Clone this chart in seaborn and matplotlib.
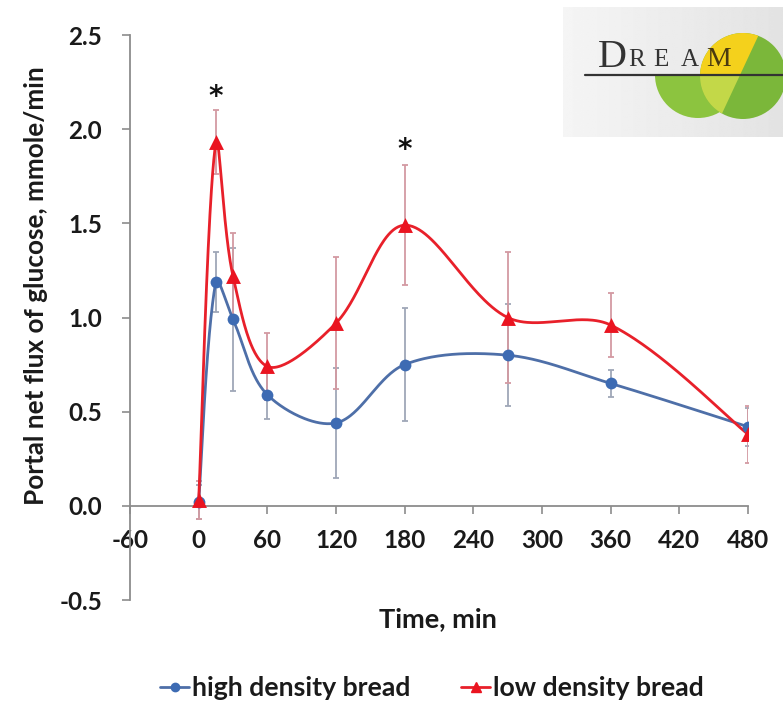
import numpy as np
import pandas as pd
import matplotlib
matplotlib.use("Agg")
import matplotlib.pyplot as plt
import seaborn as sns
from matplotlib.patches import Circle, Rectangle, Polygon
from matplotlib.lines import Line2D

# ---------------- data ----------------
time_min = [0, 15, 30, 60, 120, 180, 270, 360, 480]
high_density = [0.02, 1.19, 0.99, 0.59, 0.44, 0.75, 0.80, 0.65, 0.42]
high_err = [0.09, 0.16, 0.38, 0.13, 0.29, 0.30, 0.27, 0.07, 0.10]
low_density = [0.03, 1.93, 1.22, 0.74, 0.97, 1.49, 1.00, 0.96, 0.38]
low_err = [0.10, 0.17, 0.23, 0.18, 0.35, 0.32, 0.35, 0.17, 0.15]
star_times = [15, 180]
star_values = [2.17, 1.89]
x_ticks = [-60, 0, 60, 120, 180, 240, 300, 360, 420, 480]
y_ticks = [-0.5, 0.0, 0.5, 1.0, 1.5, 2.0, 2.5]
series_names = ["high density bread", "low density bread"]

BLUE_LINE = "#4E6FA8"
BLUE_MARK = "#3D6BB3"
BLUE_ERR = "#9FA7B8"
RED_LINE = "#E8202A"
RED_MARK = "#EA1420"
RED_ERR = "#D39AA2"

# axis geometry (used only for the smoothing of the connecting curve)
X_MIN, X_MAX, Y_MIN, Y_MAX = -60, 480, -0.5, 2.5
AX_W_PX, AX_H_PX = 618, 565


def excel_smooth(x, y, n=60):
    """Bezier 'smoothed line' through the points, tangents scaled by chord length."""
    sx = AX_W_PX / (X_MAX - X_MIN)
    sy = AX_H_PX / (Y_MAX - Y_MIN)
    P = np.column_stack([np.asarray(x, float) * sx, np.asarray(y, float) * sy])
    m = len(P)
    c_out = np.zeros_like(P)
    c_in = np.zeros_like(P)
    for i in range(m):
        if i == 0:
            c_out[i] = P[0] + (P[1] - P[0]) / 6.0
            continue
        if i == m - 1:
            c_in[i] = P[i] - (P[i] - P[i - 1]) / 6.0
            continue
        T = P[i + 1] - P[i - 1]
        d_in = np.hypot(*(P[i] - P[i - 1]))
        d_out = np.hypot(*(P[i + 1] - P[i]))
        c_out[i] = P[i] + T * d_out / (d_in + d_out) / 3.0
        c_in[i] = P[i] - T * d_in / (d_in + d_out) / 3.0
    t = np.linspace(0, 1, n)[:, None]
    segs = []
    for i in range(m - 1):
        p1, b1, b2, p2 = P[i], c_out[i], c_in[i + 1], P[i + 1]
        seg = ((1 - t) ** 3) * p1 + 3 * ((1 - t) ** 2) * t * b1 + 3 * (1 - t) * t ** 2 * b2 + t ** 3 * p2
        if i > 0:
            seg = seg[1:]
        segs.append(seg)
    out = np.vstack(segs)
    return out[:, 0] / sx, out[:, 1] / sy


sns.set_theme(style="white")
plt.rcParams["font.family"] = ["Lato", "DejaVu Sans"]
plt.rcParams["font.weight"] = "bold"

fig = plt.figure(figsize=(7.83, 7.01), dpi=100)
ax = fig.add_axes([130 / 783, 1 - 600 / 701, AX_W_PX / 783, AX_H_PX / 701])

# error bars
ax.errorbar(time_min, high_density, yerr=high_err, fmt="none", ecolor=BLUE_ERR,
            elinewidth=1.3, capsize=2.5, capthick=1.3, zorder=2)
ax.errorbar(time_min, low_density, yerr=low_err, fmt="none", ecolor=RED_ERR,
            elinewidth=1.3, capsize=2.5, capthick=1.3, zorder=2)

# smoothed lines
hx, hy = excel_smooth(time_min, high_density)
lx, ly = excel_smooth(time_min, low_density)
sns.lineplot(x=hx, y=hy, sort=False, estimator=None, color=BLUE_LINE, lw=2.0, ax=ax, zorder=3)
sns.lineplot(x=lx, y=ly, sort=False, estimator=None, color=RED_LINE, lw=2.0, ax=ax, zorder=3)

# markers
sns.scatterplot(x=time_min, y=high_density, marker="o", s=72, color=BLUE_MARK,
                edgecolor=BLUE_MARK, linewidth=0, ax=ax, zorder=4)
sns.scatterplot(x=time_min, y=low_density, marker="^", s=115, color=RED_MARK,
                edgecolor=RED_MARK, linewidth=0, ax=ax, zorder=5)

# significance stars
for st, sv in zip(star_times, star_values):
    ax.text(st, sv, "*", ha="center", va="center", fontsize=20, fontweight="bold",
            color="#111111", family=["DejaVu Sans"])

ax.set_xlim(X_MIN, X_MAX)
ax.set_ylim(Y_MIN, Y_MAX)
ax.set_xticks(x_ticks)
ax.set_xticklabels([str(v) for v in x_ticks])
ax.set_yticks(y_ticks)
ax.set_yticklabels([f"{v:.1f}" for v in y_ticks])

for s in ["top", "right"]:
    ax.spines[s].set_visible(False)
ax.spines["bottom"].set_position(("data", 0))
for s in ["left", "bottom"]:
    ax.spines[s].set_color("#8C8C8C")
    ax.spines[s].set_linewidth(1.3)

ax.tick_params(axis="x", direction="out", length=6, width=1.2, color="#8C8C8C",
               labelsize=17.5, pad=11, labelcolor="#1a1a1a")
ax.tick_params(axis="y", direction="out", length=6, width=1.2, color="#8C8C8C",
               labelsize=17.5, pad=14, labelcolor="#1a1a1a")
ax.tick_params(bottom=True, left=True)
for lab in ax.get_xticklabels() + ax.get_yticklabels():
    lab.set_fontweight("bold")

ax.set_xlabel("Time, min", fontsize=19.5, fontweight="bold", color="#1a1a1a")
ax.xaxis.set_label_coords(0.498, -0.012)
ax.set_ylabel("Portal net flux of glucose, mmole/min", fontsize=18.8, fontweight="bold", color="#1a1a1a")
ax.yaxis.set_label_coords(-0.133, 0.557)
ax.grid(False)

# legend
handles = [
    Line2D([0], [0], color=BLUE_LINE, lw=2, marker="o", markersize=6, markerfacecolor=BLUE_MARK,
           markeredgecolor=BLUE_MARK),
    Line2D([0], [0], color=RED_LINE, lw=2, marker="^", markersize=7, markerfacecolor=RED_MARK,
           markeredgecolor=RED_MARK),
]
fig.legend(handles, series_names, loc="center", bbox_to_anchor=(432 / 783, 1 - 688 / 701),
           ncol=2, frameon=False, prop={"size": 19.2, "weight": "bold"},
           handlelength=1.1, handletextpad=0.1, columnspacing=1.9, labelcolor="#1a1a1a")

# ---------------- logo ----------------
lg = fig.add_axes([560 / 783, 1 - 137 / 701, 223 / 783, 132 / 701])
lg.axis("off")
grad = np.tile(np.linspace(0.96, 0.89, 200), (60, 1))
lg.imshow(grad, extent=(563, 783, 137, 7), cmap="gray", vmin=0, vmax=1, aspect="auto", zorder=0)
lg.set_xlim(560, 783)
lg.set_ylim(137, 5)

L_c, L_r = (698, 75), 43
R_c, R_r = (743, 76), 43
line_y = 75


def split_x(yv):
    return 740 - 0.467 * (yv - line_y)


below = Rectangle((560, line_y), 230, 80, transform=lg.transData)
cl = Circle(L_c, L_r, facecolor="#8CC43F", edgecolor="none", zorder=1)
lg.add_patch(cl)
cl.set_clip_path(below)
cr = Circle(R_c, R_r, facecolor="#7BB73A", edgecolor="none", zorder=2)
lg.add_patch(cr)

quad_up = Polygon([(560, 0), (split_x(0), 0), (split_x(line_y), line_y), (560, line_y)],
                  closed=True, transform=lg.transData)
quad_dn = Polygon([(560, line_y), (split_x(line_y), line_y), (split_x(140), 140), (560, 140)],
                  closed=True, transform=lg.transData)
cy = Circle(R_c, R_r, facecolor="#F4D11C", edgecolor="none", zorder=3)
lg.add_patch(cy)
cy.set_clip_path(quad_up)
cg = Circle(R_c, R_r, facecolor="#C3D848", edgecolor="none", zorder=3)
lg.add_patch(cg)
cg.set_clip_path(quad_dn)

lg.plot([585, 783], [line_y, line_y], color="#333333", lw=1.6, zorder=5)
lg.text(612, 67, "D", fontsize=29, family=["Liberation Serif"], fontweight="normal",
        color="#333333", ha="center", va="baseline", zorder=6)
for ch, xx in zip("REAM", [637, 661, 690, 719]):
    lg.text(xx, 66, ch, fontsize=18 if ch != "M" else 20, family=["Liberation Serif"],
            fontweight="normal", color="#333333" if ch != "M" else "#4a3a10",
            ha="center", va="baseline", zorder=6)

fig.savefig("out.png", dpi=100)
